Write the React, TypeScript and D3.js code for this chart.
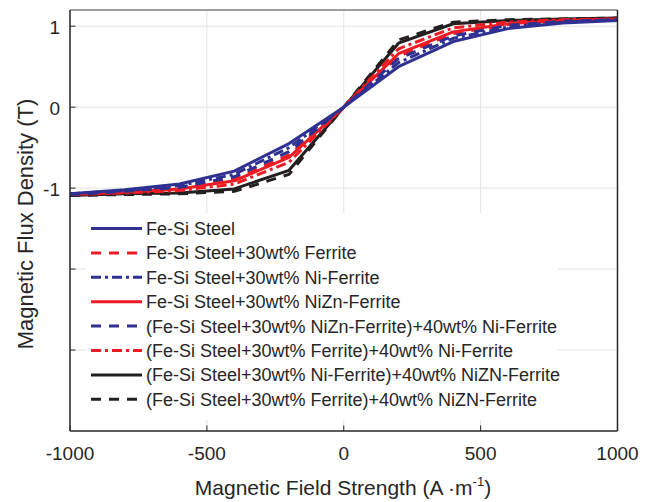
import React, { useEffect } from "react";
import * as d3 from "d3";

const xValues = [-1000, -800, -600, -400, -200, 0, 200, 400, 600, 800, 1000];

const feSi = [-1.07, -1.02, -0.95, -0.79, -0.45, 0, 0.5, 0.81, 0.97, 1.04, 1.07];
const feSiFerrite = [-1.08, -1.05, -1.0, -0.89, -0.59, 0, 0.63, 0.91, 1.02, 1.06, 1.08];
const feSiNiFerrite = [-1.07, -1.03, -0.97, -0.83, -0.5, 0, 0.55, 0.85, 0.99, 1.05, 1.08];
const feSiNiZnFerrite = [-1.08, -1.05, -1.01, -0.91, -0.62, 0, 0.66, 0.93, 1.03, 1.07, 1.09];
const niZnPlusNi = [-1.08, -1.04, -0.99, -0.86, -0.55, 0, 0.6, 0.88, 1.01, 1.06, 1.08];
const ferritePlusNi = [-1.08, -1.06, -1.03, -0.95, -0.68, 0, 0.72, 0.98, 1.05, 1.08, 1.09];
const niPlusNiZn = [-1.09, -1.07, -1.06, -1.01, -0.78, 0, 0.79, 1.03, 1.07, 1.09, 1.1];
const ferritePlusNiZn = [-1.09, -1.08, -1.07, -1.04, -0.83, 0, 0.83, 1.05, 1.08, 1.09, 1.1];

const seriesNames = [
  "Fe-Si Steel",
  "Fe-Si Steel+30wt% Ferrite",
  "Fe-Si Steel+30wt% Ni-Ferrite",
  "Fe-Si Steel+30wt% NiZn-Ferrite",
  "(Fe-Si Steel+30wt% NiZn-Ferrite)+40wt% Ni-Ferrite",
  "(Fe-Si Steel+30wt% Ferrite)+40wt% Ni-Ferrite",
  "(Fe-Si Steel+30wt% Ni-Ferrite)+40wt% NiZN-Ferrite",
  "(Fe-Si Steel+30wt% Ferrite)+40wt% NiZN-Ferrite",
];
const seriesValues = [
  feSi,
  feSiFerrite,
  feSiNiFerrite,
  feSiNiZnFerrite,
  niZnPlusNi,
  ferritePlusNi,
  niPlusNiZn,
  ferritePlusNiZn,
];
const seriesColors = ["#2e3192", "#ed1c24", "#2e3192", "#ed1c24", "#2e3192", "#ed1c24", "#231f20", "#231f20"];
const seriesDash = ["", "10,8", "10,4,3,4", "", "10,8", "10,4,3,4", "", "10,8"];
// drawing order (back to front)
const drawOrder = [7, 6, 5, 3, 1, 4, 2, 0];

const xTicks = [-1000, -500, 0, 500, 1000];
const yTicks = [-3, -2, -1, 0, 1];
const yTickLabels = ["", "", "-1", "0", "1"];

const W = 651;
const H = 502;
const M = { left: 70, right: 617.5, top: 10, bottom: 431 };

export default function App() {
  useEffect(() => {
    document.body.style.margin = "0";
  }, []);

  const x = d3.scaleLinear().domain([-1000, 1000]).range([M.left, M.right]);
  const y = d3.scaleLinear().domain([-4, 1.2]).range([M.bottom, M.top]);
  const line = d3
    .line<number>()
    .x((_, i) => x(xValues[i]))
    .y((d) => y(d));

  const font = "'Liberation Sans', Arial, Helvetica, sans-serif";
  const textColor = "#262626";
  const legend = { x0: 86, x1: 558, y0: 213, y1: 420, rowY: 228.5, rowH: 24.4 };

  return (
    <svg width={W} height={H} style={{ display: "block", background: "#fff" }} fontFamily={font}>
      <rect x={0} y={0} width={W} height={H} fill="#fff" />
      {/* grid */}
      {xTicks.map((t) => (
        <line key={"gx" + t} x1={x(t)} x2={x(t)} y1={M.top} y2={M.bottom} stroke="#e3e3e3" strokeWidth={1} />
      ))}
      {yTicks.map((t) => (
        <line key={"gy" + t} x1={M.left} x2={M.right} y1={y(t)} y2={y(t)} stroke="#e3e3e3" strokeWidth={1} />
      ))}
      {/* series */}
      {drawOrder.map((i) => (
        <path
          key={"s" + i}
          d={line(seriesValues[i]) || ""}
          fill="none"
          stroke={seriesColors[i]}
          strokeWidth={3}
          strokeDasharray={seriesDash[i] || undefined}
          strokeLinejoin="round"
        />
      ))}
      {/* legend */}
      <rect x={legend.x0} y={legend.y0} width={legend.x1 - legend.x0} height={legend.y1 - legend.y0} fill="#fff" />
      {seriesNames.map((name, i) => {
        const yy = legend.rowY + i * legend.rowH;
        return (
          <g key={"l" + i}>
            <line
              x1={91}
              x2={142}
              y1={yy}
              y2={yy}
              stroke={seriesColors[i]}
              strokeWidth={3}
              strokeDasharray={seriesDash[i] || undefined}
            />
            <text x={146} y={yy + 6.5} fontSize={18} fill={textColor}>
              {name}
            </text>
          </g>
        );
      })}
      {/* axes box */}
      <line x1={M.left} x2={M.right} y1={M.top} y2={M.top} stroke="#7f7f7f" strokeWidth={1.5} />
      <line x1={M.right} x2={M.right} y1={M.top} y2={M.bottom} stroke="#262626" strokeWidth={1.5} />
      <line x1={M.left} x2={M.left} y1={M.top} y2={M.bottom} stroke="#262626" strokeWidth={1.5} />
      <line x1={M.left} x2={M.right} y1={M.bottom} y2={M.bottom} stroke="#262626" strokeWidth={1.5} />
      {/* ticks */}
      {xTicks.map((t) => (
        <g key={"xt" + t}>
          <line x1={x(t)} x2={x(t)} y1={M.bottom} y2={M.bottom - 5.5} stroke="#262626" strokeWidth={1} />
          <text x={x(t)} y={460} fontSize={19} textAnchor="middle" fill={textColor}>
            {t}
          </text>
        </g>
      ))}
      {yTicks.map((t, i) => (
        <g key={"yt" + t}>
          <line x1={M.left} x2={M.left + 5.5} y1={y(t)} y2={y(t)} stroke="#262626" strokeWidth={1} />
          {yTickLabels[i] && (
            <text x={60} y={y(t) + 7.5} fontSize={19} textAnchor="end" fill={textColor}>
              {yTickLabels[i]}
            </text>
          )}
        </g>
      ))}
      {/* axis labels */}
      <text x={343} y={495} fontSize={21} textAnchor="middle" fill={textColor}>
        Magnetic Field Strength (A ·m
        <tspan fontSize={13} dy={-9}>
          -1
        </tspan>
        <tspan dy={9}>)</tspan>
      </text>
      <text
        transform={`translate(33, 224) rotate(-90)`}
        fontSize={22}
        textAnchor="middle"
        fill={textColor}
      >
        Magnetic Flux Density (T)
      </text>
    </svg>
  );
}
